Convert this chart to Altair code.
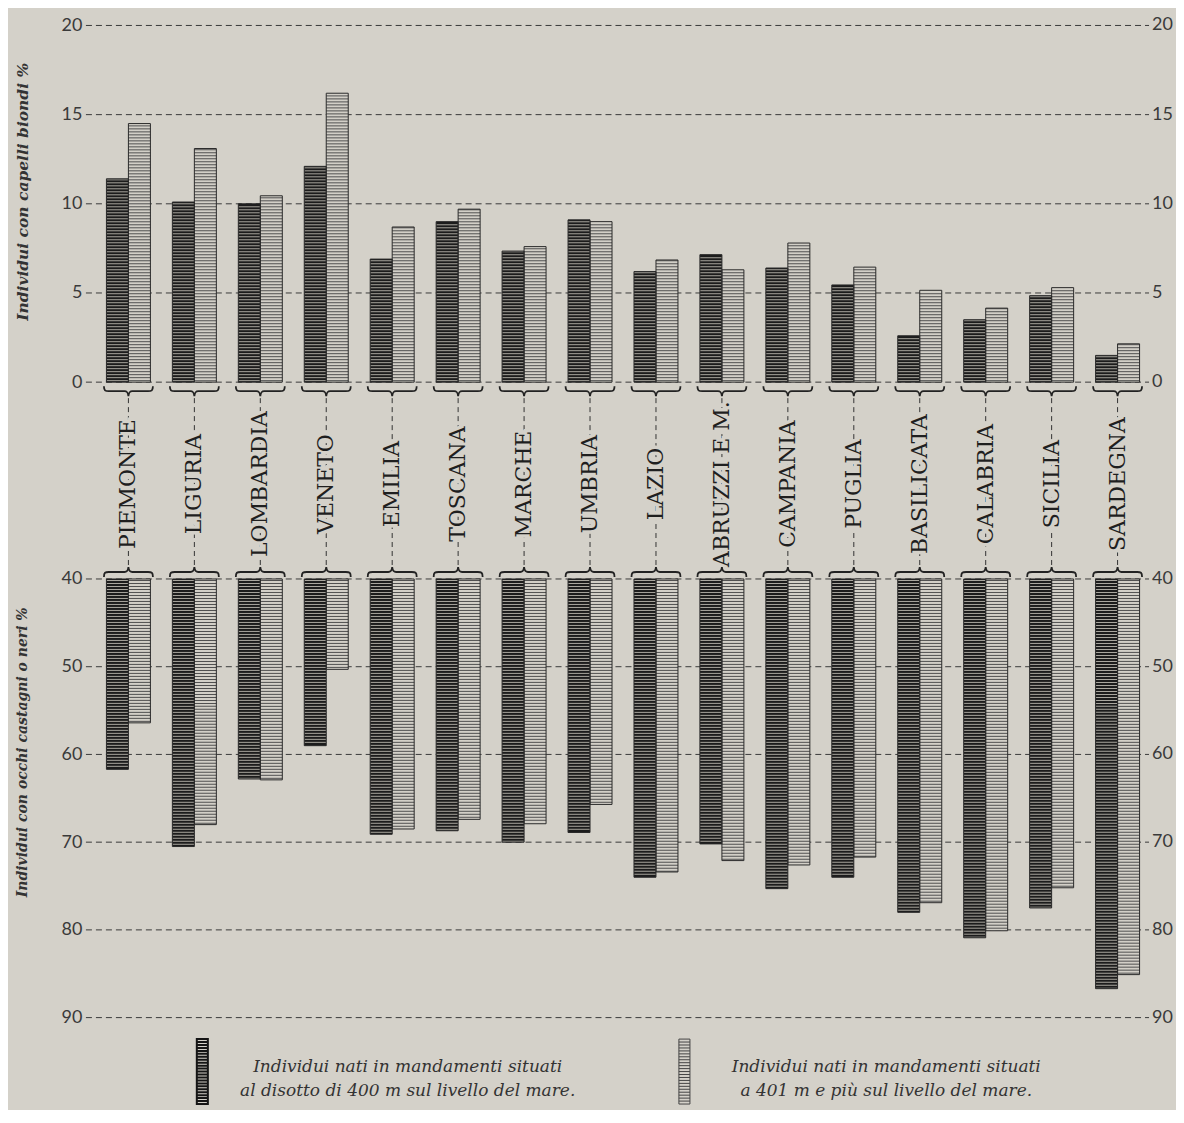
import altair as alt
import pandas as pd

# ---------------- data ----------------
regions = ["PIEMONTE", "LIGURIA", "LOMBARDIA", "VENETO", "EMILIA", "TOSCANA",
           "MARCHE", "UMBRIA", "LAZIO", "ABRUZZI E M.", "CAMPANIA", "PUGLIA",
           "BASILICATA", "CALABRIA", "SICILIA", "SARDEGNA"]
series = ["sotto400", "sopra400"]
blond_low = [11.4, 10.1, 10.0, 12.1, 6.9, 9.0, 7.35, 9.1, 6.2, 7.15, 6.4, 5.45, 2.6, 3.5, 4.85, 1.5]
blond_high = [14.5, 13.1, 10.45, 16.2, 8.7, 9.7, 7.6, 9.0, 6.85, 6.3, 7.8, 6.45, 5.15, 4.15, 5.3, 2.15]
eyes_low = [61.7, 70.5, 62.8, 59.0, 69.1, 68.7, 70.0, 68.9, 74.0, 70.2, 75.3, 74.0, 78.0, 80.9, 77.5, 86.7]
eyes_high = [56.4, 68.0, 62.9, 50.3, 68.5, 67.4, 67.9, 65.7, 73.4, 72.1, 72.6, 71.7, 76.9, 80.1, 75.2, 85.1]
top_ticks = [0, 5, 10, 15, 20]
top_tick_labels = ["0", "5", "10", "15", "20"]
bottom_ticks = [40, 50, 60, 70, 80, 90]
bottom_tick_labels = ["40", "50", "60", "70", "80", "90"]
title_top = "Individui con capelli biondi %"
title_bottom = "Individui con occhi castagni o neri %"
legend_low = ["Individui nati in mandamenti situati", "al disotto di 400 m sul livello del mare."]
legend_high = ["Individui nati in mandamenti situati", "a 401 m e più sul livello del mare."]

# ---------------- style / layout ----------------
BG = "#d4d1c9"
INK = "#2a2a2a"
DARK = "#1c1c1c"
DARK_GAP = "#a9a69e"
LIGHT = "#d2cfc7"
LIGHT_RUNG = "#505050"
W = 1091
HT = 554
HB = 531
PX_TOP = 17.85
PX_BOT = 8.78

top_df = pd.DataFrame({"region": regions * 2,
                       "series": [series[0]] * len(regions) + [series[1]] * len(regions),
                       "v": blond_low + blond_high})
bot_df = pd.DataFrame({"region": regions * 2,
                       "series": [series[0]] * len(regions) + [series[1]] * len(regions),
                       "v": eyes_low + eyes_high})
reg_df = pd.DataFrame({"region": regions})
top_tick_df = pd.DataFrame({"t": top_ticks, "lbl": top_tick_labels})
bot_tick_df = pd.DataFrame({"t": bottom_ticks, "lbl": bottom_tick_labels})

xscale = alt.Scale(domain=regions, paddingInner=0.333, paddingOuter=0.4316, align=0.36)
X = alt.X("region:N", scale=xscale, axis=None)
XO = alt.XOffset("series:N", scale=alt.Scale(domain=series, paddingInner=0, paddingOuter=0))

is_dark = f"datum.series == '{series[0]}'"


def yaxis(values, title, title_y, title_size):
    return alt.Axis(values=values, grid=False, domain=False, ticks=False,
                    labelPadding=4, labelFont="Lato", labelFontSize=18,
                    labelColor="#3a3a3a", minExtent=50, maxExtent=50,
                    title=title, titleFont="DejaVu Serif", titleFontStyle="italic",
                    titleFontWeight="bold", titleFontSize=title_size, titleColor="#333333",
                    titleAngle=270, titleX=-63, titleY=title_y,
                    titleAlign="center", titleBaseline="middle")


def panel_layers(df, tick_df, yscale, axis, base, px):
    def Y(f):
        return alt.Y(f, scale=yscale, axis=axis)

    step = 3.0 / px
    h = 1.0 / px
    grid = alt.Chart(tick_df).mark_rule(strokeDash=[6, 4], color="#3a3a3a", strokeWidth=1).encode(
        y=Y("t:Q"), x=alt.value(0), x2=alt.value(W - 27))
    base_bar = alt.Chart(df).mark_bar().encode(
        x=X, xOffset=XO, y=Y("v:Q"), y2=alt.datum(base),
        fill=alt.condition(is_dark, alt.value(DARK), alt.value(LIGHT)))
    stripes = (alt.Chart(df)
               .transform_calculate(s=f"sequence({base} + {h}, datum.v - {h}, {step})")
               .transform_flatten(["s"])
               .transform_calculate(s2=f"datum.s + {h}")
               .mark_bar()
               .encode(x=X, xOffset=XO, y=Y("s:Q"), y2="s2:Q",
                       fill=alt.condition(is_dark, alt.value(DARK_GAP), alt.value(LIGHT_RUNG))))
    outline = alt.Chart(df).mark_bar(fillOpacity=0, stroke=INK, strokeWidth=1).encode(
        x=X, xOffset=XO, y=Y("v:Q"), y2=alt.datum(base))
    rlab = alt.Chart(tick_df).mark_text(align="left", baseline="middle", font="Lato",
                                        fontSize=18, color="#3a3a3a").encode(
        x=alt.value(W - 24), y=Y("t:Q"), text="lbl:N")
    return [grid, base_bar, stripes, outline, rlab]


# braces as custom symbol paths
BRACE_DOWN = ("M -1 -0.2 C -1 -0.02 -0.95 0 -0.8 0 L -0.16 0 C -0.05 0 -0.02 0.05 0 0.2 "
              "C 0.02 0.05 0.05 0 0.16 0 L 0.8 0 C 0.95 0 1 -0.02 1 -0.2")
BRACE_UP = ("M -1 0.2 C -1 0.02 -0.95 0 -0.8 0 L -0.16 0 C -0.05 0 -0.02 -0.05 0 -0.2 "
            "C 0.02 -0.05 0.05 0 0.16 0 L 0.8 0 C 0.95 0 1 0.02 1 0.2")


def swatch_path(n_lines):
    p = "M -0.17 -1 L 0.17 -1 L 0.17 1 L -0.17 1 Z"
    for i in range(1, n_lines):
        yy = -1 + 2.0 * i / n_lines
        p += f" M -0.17 {yy:.3f} L 0.17 {yy:.3f}"
    return p


# ---------------- top panel ----------------
yscale_top = alt.Scale(domain=[20 - HT / PX_TOP, 20], nice=False, zero=False)
axis_top = yaxis(top_ticks, title_top, 166, 15.5)
top_layers = panel_layers(top_df, top_tick_df, yscale_top, axis_top, 0, PX_TOP)

brace_t = alt.Chart(reg_df).mark_point(shape=BRACE_DOWN, size=2401, filled=False, color="#222222",
                                       strokeWidth=1.8, opacity=1).encode(x=X, y=alt.value(366))
dashed = alt.Chart(reg_df).mark_rule(strokeDash=[5, 4], color="#333333", strokeWidth=1).encode(
    x=X, y=alt.value(373), y2=alt.value(542))
halo = alt.Chart(reg_df).mark_text(angle=270, font="DejaVu Serif", fontSize=22, color=BG, stroke=BG,
                                   strokeWidth=7, baseline="middle", align="center").encode(
    x=X, y=alt.value(459), text="region:N")
label = alt.Chart(reg_df).mark_text(angle=270, font="DejaVu Serif", fontSize=22, color="#1f1f1f",
                                    baseline="middle", align="center").encode(
    x=X, y=alt.value(459), text="region:N")
brace_b = alt.Chart(reg_df).mark_point(shape=BRACE_UP, size=2401, filled=False, color="#222222",
                                       strokeWidth=1.8, opacity=1).encode(x=X, y=alt.value(547))

top = alt.layer(*top_layers, brace_t, dashed, halo, label, brace_b).properties(width=W, height=HT)

# ---------------- bottom panel ----------------
yscale_bot = alt.Scale(domain=[40, 40 + HB / PX_BOT], nice=False, zero=False, reverse=True)
axis_bot = yaxis(bottom_ticks, title_bottom, 173, 14)
bot_layers = panel_layers(bot_df, bot_tick_df, yscale_bot, axis_bot, 40, PX_BOT)

sw_dark = alt.Chart(reg_df.head(1)).mark_point(shape=swatch_path(22), size=4225, filled=False,
                                               color="#151515", strokeWidth=2.0, opacity=1).encode(
    x=alt.value(116.5), y=alt.value(493))
sw_light = alt.Chart(reg_df.head(1)).mark_point(shape=swatch_path(22), size=4225, filled=False,
                                                color="#444444", strokeWidth=1.0, opacity=1).encode(
    x=alt.value(599), y=alt.value(493))
leg_t1 = alt.Chart(reg_df.head(1)).mark_text(font="DejaVu Serif", fontStyle="italic", fontSize=17,
                                             color="#333333", align="center", baseline="alphabetic",
                                             lineHeight=24).encode(
    x=alt.value(322), y=alt.value(493), text=alt.value(legend_low))
leg_t2 = alt.Chart(reg_df.head(1)).mark_text(font="DejaVu Serif", fontStyle="italic", fontSize=17,
                                             color="#333333", align="center", baseline="alphabetic",
                                             lineHeight=24).encode(
    x=alt.value(801), y=alt.value(493), text=alt.value(legend_high))

bottom = alt.layer(*bot_layers, sw_dark, sw_light, leg_t1, leg_t2).properties(width=W, height=HB)

chart = (alt.vconcat(top, bottom, spacing=0, bounds="flush")
         .properties(background=BG, padding={"top": 8, "left": 7, "right": 0, "bottom": 0})
         .configure_view(stroke=None))

chart.save("out.html", embed_options={"renderer": "svg", "actions": False})
